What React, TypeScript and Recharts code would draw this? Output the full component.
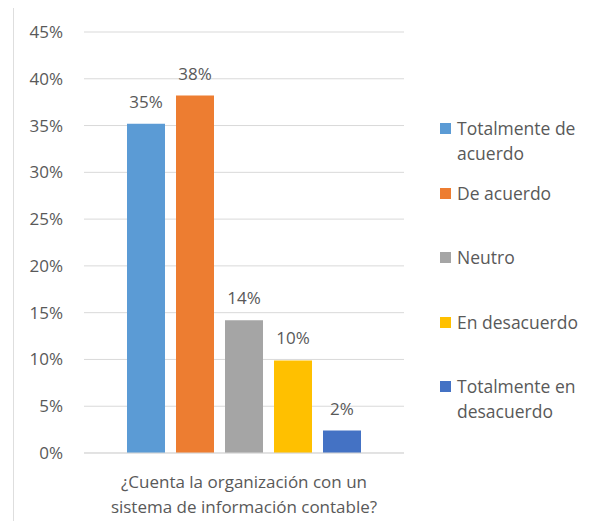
import React from 'react';
import {BarChart, Bar, XAxis, YAxis, CartesianGrid, Legend, LabelList} from 'recharts';

const question = ['¿Cuenta la organización con un', 'sistema de información contable?'];
const seriesNames = ['Totalmente de acuerdo', 'De acuerdo', 'Neutro', 'En desacuerdo', 'Totalmente en desacuerdo'];
const legendLines = [['Totalmente de', 'acuerdo'], ['De acuerdo'], ['Neutro'], ['En desacuerdo'], ['Totalmente en', 'desacuerdo']];
const seriesValues = [0.352, 0.382, 0.142, 0.099, 0.024];
const seriesColors = ['#5b9bd5', '#ed7d31', '#a5a5a5', '#ffc000', '#4472c4'];
const yTicks = [0, 0.05, 0.1, 0.15, 0.2, 0.25, 0.3, 0.35, 0.4, 0.45];

const data = [
    seriesNames.reduce((row: any, name, i) => {
        row[name] = seriesValues[i];
        return row;
    }, {name: question.join(' ')}),
];

const font = '"Open Sans", sans-serif';
const textColor = '#595959';
const pct = (v: any) => Math.round(Number(v) * 100) + '%';

const QuestionTick = (props: any) => {
    const {x, y} = props;
    return (
        <text x={x} y={y} textAnchor="middle" fill={textColor} fontSize={17} fontFamily={font}>
            {question.map((line, i) => (
                <tspan key={i} x={x} dy={i === 0 ? 27 : 25}>{line}</tspan>
            ))}
        </text>
    );
};

const LegendBox = () => (
    <div style={{fontFamily: font, fontSize: 17.5, color: textColor}}>
        {legendLines.map((lines, i) => (
            <div key={i} style={{display: 'flex', alignItems: 'flex-start', height: 64.5, lineHeight: '25px'}}>
                <span style={{width: 11, height: 11, background: seriesColors[i], marginTop: 7, marginRight: 6, flexShrink: 0}}/>
                <span>{lines.map((l, j) => <div key={j}>{l}</div>)}</span>
            </div>
        ))}
    </div>
);

export default function App() {
    return (
        <div style={{position: 'relative', width: 591, height: 529, margin: -8}}>
            <div style={{position: 'absolute', left: 13, top: 6, right: 0, bottom: 0,
                borderTop: '1px solid #dedede', borderLeft: '1px solid #dedede'}}/>
            <BarChart width={591} height={529} data={data}
                      margin={{top: 32, right: 187, bottom: 0, left: 0}} barGap={11}>
                <CartesianGrid vertical={false} stroke="#d9d9d9"/>
                <XAxis dataKey="name" height={76} tickLine={false} axisLine={{stroke: '#d9d9d9'}}
                       tick={<QuestionTick/>} interval={0}/>
                <YAxis width={84} domain={[0, 0.45]} ticks={yTicks} tickFormatter={pct} interval={0}
                       axisLine={false} tickLine={false} tickSize={0} tickMargin={21}
                       tick={{fill: textColor, fontSize: 17, fontFamily: font}}/>
                <Legend content={<LegendBox/>} layout="vertical" align="center" verticalAlign="middle"
                        wrapperStyle={{left: 440, top: 116, width: 150}}/>
                {seriesNames.map((name, i) => (
                    <Bar key={name} dataKey={name} fill={seriesColors[i]} barSize={38}
                         isAnimationActive={false}>
                        <LabelList dataKey={name} position="top" offset={16} formatter={pct}
                                   fill={textColor} fontSize={17} fontFamily={font}/>
                    </Bar>
                ))}
            </BarChart>
        </div>
    );
}
